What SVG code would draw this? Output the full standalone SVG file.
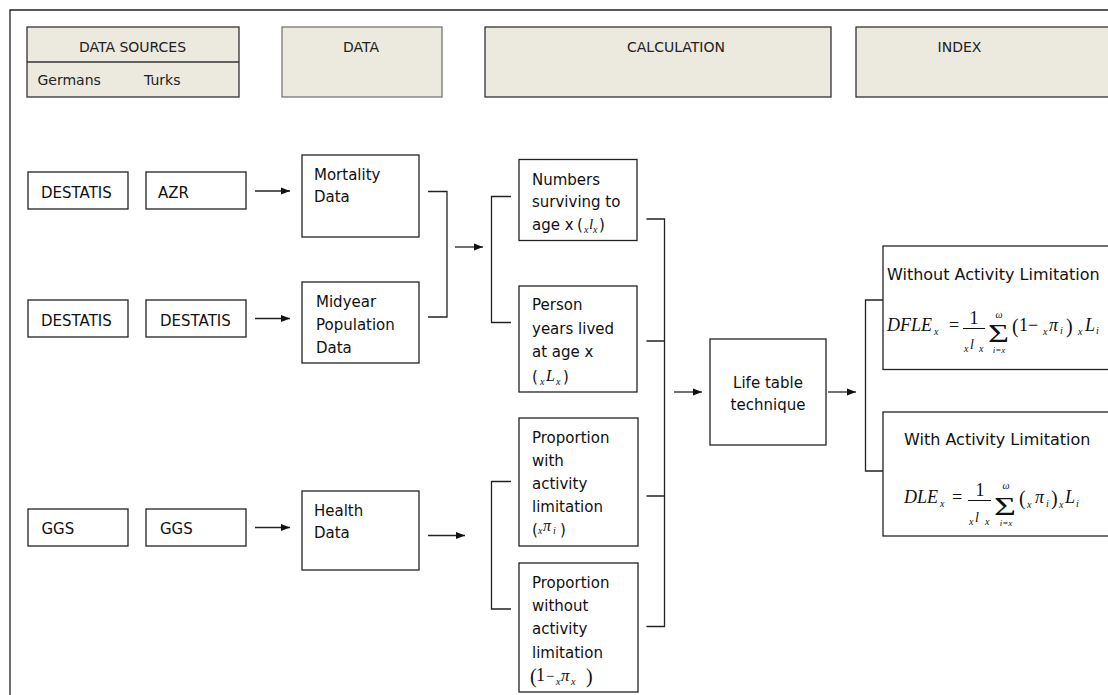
<svg xmlns="http://www.w3.org/2000/svg" width="1108" height="695" viewBox="0 0 1108 695">
<defs>
<style>
.box{fill:#fff;stroke:#222;stroke-width:1.3}
.hdr{fill:#ECE9DF;stroke:#333;stroke-width:1.3}
.hdr2{fill:#ECE9DF;stroke:#777;stroke-width:1.3}
.t{font-family:"DejaVu Sans",sans-serif;font-size:15px;fill:#111}
.h{font-family:"DejaVu Sans",sans-serif;font-size:14px;fill:#222}
.ti{font-family:"DejaVu Sans",sans-serif;font-size:16px;fill:#111}
.m{font-family:"Liberation Serif",serif;font-style:italic;font-size:18px;fill:#111}
.mr{font-family:"Liberation Serif",serif;font-size:18px;fill:#111}
.s{font-family:"Liberation Serif",serif;font-style:italic;font-size:10px;fill:#111}
.conn{fill:none;stroke:#222;stroke-width:1.3}
.frame{fill:none;stroke:#222;stroke-width:1.3}
</style>
<marker id="arr" markerUnits="userSpaceOnUse" markerWidth="9" markerHeight="8" refX="9" refY="4" orient="auto">
<path d="M0,0.5 L9,4 L0,7.5 z" fill="#111"/>
</marker>
</defs>
<rect width="1108" height="695" fill="#fff"/>
<path class="frame" d="M10,695 V10 H1108"/>

<g id="hdr-sources">
<rect class="hdr" x="27" y="27" width="212" height="70"/>
<line x1="27" y1="62" x2="239" y2="62" stroke="#333" stroke-width="1.3"/>
<text class="h" x="132.5" y="52" text-anchor="middle">DATA SOURCES</text>
<text class="h" x="37.5" y="85">Germans</text>
<text class="h" x="144" y="85">Turks</text>
</g>
<g id="hdr-data">
<rect class="hdr2" x="282" y="27" width="160" height="70"/>
<text class="h" x="361" y="52" text-anchor="middle">DATA</text>
</g>
<g id="hdr-calc">
<rect class="hdr" x="485" y="27" width="346" height="70"/>
<text class="h" x="676" y="52" text-anchor="middle">CALCULATION</text>
</g>
<g id="hdr-index">
<rect class="hdr" x="856" y="27" width="270" height="70"/>
<text class="h" x="959.5" y="52" text-anchor="middle">INDEX</text>
</g>

<g id="src-de-1"><rect class="box" x="28" y="172" width="100" height="37"/><text class="t" x="41" y="198">DESTATIS</text></g>
<g id="src-tr-1"><rect class="box" x="146" y="172" width="100" height="37"/><text class="t" x="158" y="198">AZR</text></g>
<g id="src-de-2"><rect class="box" x="28" y="300" width="100" height="37"/><text class="t" x="41" y="326">DESTATIS</text></g>
<g id="src-tr-2"><rect class="box" x="146" y="300" width="100" height="37"/><text class="t" x="160" y="326">DESTATIS</text></g>
<g id="src-de-3"><rect class="box" x="28" y="509" width="100" height="37"/><text class="t" x="41.5" y="534">GGS</text></g>
<g id="src-tr-3"><rect class="box" x="146" y="509" width="100" height="37"/><text class="t" x="160" y="534">GGS</text></g>

<g id="mortality"><rect class="box" x="302" y="155" width="117" height="82"/>
<text class="t" x="314" y="180">Mortality</text><text class="t" x="314" y="202">Data</text></g>
<g id="midyear"><rect class="box" x="302" y="282" width="117" height="81"/>
<text class="t" x="316" y="307">Midyear</text><text class="t" x="316" y="330">Population</text><text class="t" x="316" y="353">Data</text></g>
<g id="health"><rect class="box" x="302" y="491" width="117" height="79"/>
<text class="t" x="314" y="516">Health</text><text class="t" x="314" y="538">Data</text></g>

<g id="numbers"><rect class="box" x="519" y="159.5" width="118" height="81"/>
<text class="t" x="532" y="185">Numbers</text>
<text class="t" x="532" y="207">surviving to</text>
<text class="t" x="532" y="230">age x</text>
<text class="t" x="577" y="230">(</text>
<text class="s" x="584" y="233">x</text>
<text class="m" x="589" y="229" style="font-size:15px">l</text>
<text class="s" x="593" y="233">x</text>
<text class="t" x="599" y="230">)</text></g>

<g id="person"><rect class="box" x="519" y="286" width="118" height="106"/>
<text class="t" x="532" y="310">Person</text>
<text class="t" x="532" y="334">years lived</text>
<text class="t" x="532" y="357">at age x</text>
<text class="t" x="532" y="382">(</text>
<text class="s" x="540" y="385">x</text>
<text class="m" x="546" y="381" style="font-size:16px">L</text>
<text class="s" x="556" y="385">x</text>
<text class="t" x="563" y="382">)</text></g>

<g id="prop-with"><rect class="box" x="519" y="418" width="119" height="128"/>
<text class="t" x="532" y="443">Proportion</text>
<text class="t" x="532" y="466">with</text>
<text class="t" x="532" y="489">activity</text>
<text class="t" x="532" y="512">limitation</text>
<text class="t" x="532" y="535">(</text>
<text class="s" x="538" y="534">x</text>
<text class="m" x="543" y="531" style="font-size:16px">π</text>
<text class="s" x="553" y="534">i</text>
<text class="t" x="560" y="535">)</text></g>

<g id="prop-without"><rect class="box" x="519" y="563" width="119" height="129"/>
<text class="t" x="532" y="588">Proportion</text>
<text class="t" x="532" y="611">without</text>
<text class="t" x="532" y="634">activity</text>
<text class="t" x="532" y="658">limitation</text>
<text class="mr" x="530" y="683" style="font-size:20px">(</text>
<text class="mr" x="536" y="681">1</text>
<text class="mr" x="546" y="681" style="font-size:15px">−</text>
<text class="s" x="556" y="685">x</text>
<text class="m" x="561" y="681" style="font-size:17px">π</text>
<text class="s" x="571" y="685">x</text>
<text class="mr" x="586" y="683" style="font-size:20px">)</text></g>

<g id="lifetable"><rect class="box" x="710" y="339" width="116" height="106"/>
<text class="t" x="768" y="388" text-anchor="middle">Life table</text>
<text class="t" x="768" y="410" text-anchor="middle">technique</text></g>

<g id="dfle"><rect class="box" x="883" y="246" width="240" height="123.5"/>
<text class="ti" x="887" y="280">Without Activity Limitation</text>
<text class="m" x="887" y="331">DFLE</text>
<text class="s" x="934" y="335">x</text>
<text class="mr" x="949" y="331">=</text>
<text class="mr" x="974" y="324" text-anchor="middle">1</text>
<line x1="963" y1="328.5" x2="985" y2="328.5" stroke="#111" stroke-width="1"/>
<text class="s" x="964" y="352">x</text>
<text class="m" x="970" y="349" style="font-size:14px">l</text>
<text class="s" x="979" y="352">x</text>
<text class="mr" x="988" y="342" style="font-size:25px" textLength="21" lengthAdjust="spacingAndGlyphs">Σ</text>
<text class="s" x="999" y="318" text-anchor="middle">ω</text>
<text class="s" x="999" y="353" text-anchor="middle" style="font-size:9px">i=x</text>
<text class="mr" x="1012" y="333" style="font-size:20px">(</text>
<text class="mr" x="1019" y="331">1</text>
<text class="mr" x="1028" y="331">−</text>
<text class="s" x="1043" y="335">x</text>
<text class="m" x="1049" y="331">π</text>
<text class="s" x="1060" y="334">i</text>
<text class="mr" x="1066" y="333" style="font-size:20px">)</text>
<text class="s" x="1078" y="335">x</text>
<text class="m" x="1085" y="331">L</text>
<text class="s" x="1096" y="334">i</text></g>

<g id="dle"><rect class="box" x="883" y="412" width="240" height="124"/>
<text class="ti" x="904" y="445">With Activity Limitation</text>
<text class="m" x="904" y="503">DLE</text>
<text class="s" x="940" y="507">x</text>
<text class="mr" x="952" y="503">=</text>
<text class="mr" x="980" y="496" text-anchor="middle">1</text>
<line x1="968" y1="500.5" x2="991" y2="500.5" stroke="#111" stroke-width="1"/>
<text class="s" x="969" y="525">x</text>
<text class="m" x="975" y="522" style="font-size:14px">l</text>
<text class="s" x="985" y="525">x</text>
<text class="mr" x="994" y="515" style="font-size:25px" textLength="22" lengthAdjust="spacingAndGlyphs">Σ</text>
<text class="s" x="1006" y="489" text-anchor="middle">ω</text>
<text class="s" x="1006" y="526" text-anchor="middle" style="font-size:9px">i=x</text>
<text class="mr" x="1019" y="505" style="font-size:20px">(</text>
<text class="s" x="1027" y="508">x</text>
<text class="m" x="1035" y="503">π</text>
<text class="s" x="1046" y="507">i</text>
<text class="mr" x="1051" y="505" style="font-size:20px">)</text>
<text class="s" x="1059" y="508">x</text>
<text class="m" x="1065" y="503">L</text>
<text class="s" x="1076" y="507">i</text></g>

<g id="connectors">
<line class="conn" x1="255" y1="191" x2="290" y2="191" marker-end="url(#arr)"/>
<line class="conn" x1="255" y1="318.5" x2="290" y2="318.5" marker-end="url(#arr)"/>
<line class="conn" x1="255" y1="527.5" x2="290" y2="527.5" marker-end="url(#arr)"/>
<path class="conn" d="M428,191.5 H447 V317 H428"/>
<line class="conn" x1="455" y1="247" x2="483" y2="247" marker-end="url(#arr)"/>
<path class="conn" d="M511,196.5 H491.5 V322.5 H511"/>
<line class="conn" x1="428" y1="535.5" x2="465" y2="535.5" marker-end="url(#arr)"/>
<path class="conn" d="M511,481.5 H491.5 V609 H511"/>
<path class="conn" d="M646.5,219 H664.5 V626.5 H646.5 M646.5,341 H664.5 M646.5,496 H664.5"/>
<line class="conn" x1="674" y1="392" x2="702" y2="392" marker-end="url(#arr)"/>
<line class="conn" x1="828" y1="392" x2="856" y2="392" marker-end="url(#arr)"/>
<path class="conn" d="M883,300 H865.5 V471 H883"/>
</g>
</svg>
